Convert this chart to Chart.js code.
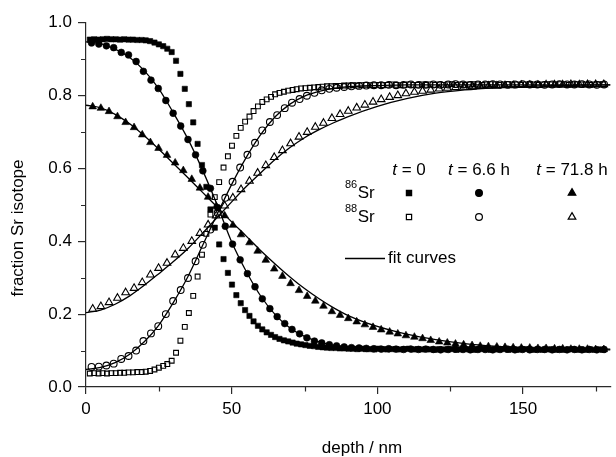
<!DOCTYPE html>
<html>
<head>
<meta charset="utf-8">
<script src="https://cdn.jsdelivr.net/npm/chart.js@4.4.1/dist/chart.umd.min.js"></script>
<style>
html,body{margin:0;padding:0;background:#fff;}
#wrap{width:616px;height:457px;position:relative;}
</style>
</head>
<body>
<div id="wrap"><canvas id="c" width="616" height="457"></canvas></div>
<script>
// ---------- data ----------
const depthT0 = [1.3,2.8,4.3,5.7,7.2,8.7,10.2,11.7,13.1,14.6,16.1,17.6,19.1,20.5,22.0,23.5,25.0,26.5,27.9,29.4,
30.9,32.4,33.9,35.3,36.8,38.3,39.8,41.3,42.7,44.2,45.7,47.2,48.7,50.1,51.6,53.1,54.6,56.1,57.5,59.0,
60.5,62.0,63.5,64.9,66.4,67.9,69.4,70.9,72.3,73.8,75.3,76.8,78.3,79.7,81.2,82.7,84.2,85.7,87.1,88.6,
90.1,91.6,93.1,94.5,96.0,97.5,99.0,100.5,101.9,103.4,104.9,106.4,107.9,109.3,110.8,112.3,113.8,115.3,116.7,118.2,
119.7,121.2,122.7,124.1,125.6,127.1,128.6,130.1,131.5,133.0,134.5,136.0,137.5,138.9,140.4,141.9,143.4,144.9,146.3,147.8,
149.3,150.8,152.3,153.7,155.2,156.7,158.2,159.7,161.1,162.6,164.1,165.6,167.1,168.5,170.0,171.5,173.0,174.5,175.9,177.4];
const sr86T0 = [0.953,0.954,0.953,0.954,0.955,0.954,0.954,0.953,0.954,0.953,0.953,0.952,0.952,0.951,
0.949,0.945,0.940,0.935,0.928,0.919,0.895,0.859,0.818,0.776,0.726,0.667,0.609,0.549,0.487,0.437,
0.391,0.351,0.313,0.281,0.252,0.230,0.211,0.195,0.180,0.168,0.158,0.150,0.143,0.137,0.132,0.128,
0.125,0.122,0.119,0.117,0.115,0.113,0.112,0.110,0.109,0.108,0.107,0.107,0.106,0.106,0.105,
0.105,0.104,0.105,0.104,0.104,0.103,0.105,0.104,0.103,0.104,
0.104,0.103,0.104,0.105,0.103,0.104,0.103,0.104,0.103,0.102,
0.104,0.103,0.103,0.104,0.102,0.103,0.104,0.103,0.102,0.103,
0.104,0.103,0.102,0.103,0.103,0.104,0.102,0.103,0.102,0.103,
0.104,0.103,0.102,0.103,0.102,0.103,0.103,0.102,0.103,0.102,
0.103,0.104,0.102,0.103,0.102,0.103,0.102,0.103,0.102];
const sr88T0 = [0.037,0.038,0.037,0.038,0.037,0.038,0.038,0.039,0.039,0.040,0.040,0.041,0.041,0.042,
0.044,0.048,0.053,0.058,0.063,0.072,0.094,0.127,0.165,0.203,0.250,0.303,0.363,0.420,0.473,0.521,
0.562,0.602,0.633,0.662,0.689,0.711,0.728,0.742,0.757,0.770,0.782,0.789,0.796,0.803,0.807,0.810,
0.813,0.815,0.817,0.819,0.820,0.821,0.822,0.823,0.824,0.825,0.825,0.826,0.826,0.827,0.827,
0.828,0.827,0.828,0.829,0.828,0.828,0.829,0.828,0.829,0.830,
0.829,0.828,0.829,0.830,0.829,0.829,0.830,0.829,0.830,0.829,
0.830,0.829,0.830,0.831,0.829,0.830,0.829,0.830,0.831,0.830,
0.829,0.830,0.831,0.830,0.829,0.830,0.831,0.830,0.830,0.829,
0.830,0.831,0.830,0.829,0.830,0.831,0.830,0.830,0.831,0.830,
0.829,0.830,0.831,0.830,0.830,0.829,0.830,0.831,0.830];

const depthT66 = [1.9,4.4,7.0,9.5,12.1,14.6,17.2,19.7,22.3,24.8,27.4,29.9,32.5,35.0,37.6,40.1,42.7,45.2,47.8,50.3,
52.9,55.4,58.0,60.5,63.1,65.6,68.2,70.7,73.3,75.8,78.4,80.9,83.5,86.0,88.6,91.1,93.7,96.2,98.8,101.3,
103.9,106.4,109.0,111.5,114.1,116.6,119.2,121.7,124.3,126.8,129.4,131.9,134.5,137.0,139.6,142.1,144.7,147.2,149.8,152.3,
154.9,157.4,160.0,162.5,165.1,167.6,170.2,172.7,175.3,177.8];
const sr86T66 = [0.944,0.941,0.936,0.931,0.918,0.911,0.893,0.866,0.842,0.819,0.786,0.751,0.716,0.679,0.637,0.593,
0.545,0.492,0.441,0.392,0.349,0.311,0.275,0.242,0.215,0.193,0.174,0.158,0.146,0.135,0.126,0.121,0.116,
0.113,0.110,0.108,0.107,0.106,0.105,
0.104,0.105,0.104,0.103,0.104,0.103,0.104,0.103,0.102,0.103,0.104,0.103,0.102,0.103,0.103,0.102,
0.103,0.104,0.102,0.103,0.102,0.103,0.103,0.102,0.103,0.102,0.103,0.102,0.103,0.102,0.103];
const sr88T66 = [0.055,0.056,0.059,0.064,0.077,0.085,0.100,0.126,0.147,0.167,0.200,0.236,0.266,0.299,0.345,0.390,
0.432,0.478,0.519,0.563,0.602,0.637,0.670,0.704,0.727,0.746,0.765,0.780,0.790,0.799,0.807,0.814,0.818,
0.821,0.823,0.825,0.826,0.827,0.828,
0.828,0.829,0.828,0.829,0.830,0.829,0.829,0.830,0.829,0.830,0.831,0.830,0.829,0.830,0.830,0.831,
0.830,0.829,0.830,0.831,0.830,0.830,0.829,0.830,0.831,0.830,0.830,0.831,0.830,0.829,0.830];

const depthT718 = [2.3,5.1,7.9,10.8,13.6,16.5,19.3,22.1,24.9,27.8,30.6,33.4,36.3,39.1,41.9,44.7,47.6,50.4,53.2,56.1,
58.9,61.7,64.6,67.4,70.2,73.1,75.9,78.7,81.5,84.4,87.2,90.0,92.9,95.7,98.5,101.3,104.2,107.0,109.8,112.7,
115.5,118.3,121.2,124.0,126.8,129.6,132.5,135.3,138.1,141.0,143.8,146.6,149.4,152.3,155.1,157.9,160.8,163.6,166.4,169.3,
172.1,174.9,177.7];
const sr86T718 = [0.769,0.765,0.756,0.742,0.726,0.712,0.692,0.671,0.655,0.636,0.615,0.594,0.570,0.546,0.521,0.496,
0.470,0.444,0.418,0.396,0.373,0.348,0.324,0.304,0.284,0.265,0.249,0.236,0.222,0.207,0.197,0.188,0.179,
0.171,0.164,0.157,0.151,0.146,0.141,0.137,0.133,0.128,0.124,0.121,0.118,0.116,0.114,0.112,0.111,0.110,
0.109,0.108,0.107,0.107,0.106,0.106,0.105,0.105,0.104,0.104,0.104,0.103,0.103];
const sr88T718 = [0.214,0.221,0.232,0.244,0.259,0.271,0.287,0.308,0.326,0.340,0.363,0.381,0.400,0.422,0.445,0.470,
0.497,0.519,0.542,0.565,0.587,0.608,0.630,0.649,0.668,0.686,0.699,0.713,0.724,0.737,0.748,0.757,0.766,
0.774,0.782,0.789,0.795,0.800,0.805,0.809,0.812,0.815,0.818,0.820,0.822,0.823,0.824,0.825,0.826,0.826,
0.827,0.827,0.828,0.828,0.828,0.829,0.829,0.829,0.830,0.829,0.830,0.830,0.830];

// fit curves
const fitDepth = [0,5,10,15,20,25,30,35,40,45,50,55,60,65,70,75,80,85,90,100,110,120,130,140,150,160,170,180];
const fit86T66 = [0.947,0.942,0.927,0.904,0.868,0.818,0.752,0.680,0.595,0.500,0.398,0.317,0.249,0.198,0.162,0.139,0.124,0.115,0.110,0.105,0.103,0.102,0.102,0.102,0.102,0.102,0.102,0.102];
const fit88T66 = [0.048,0.054,0.067,0.090,0.124,0.170,0.232,0.303,0.388,0.474,0.556,0.630,0.693,0.742,0.776,0.798,0.811,0.819,0.824,0.827,0.829,0.829,0.829,0.829,0.829,0.829,0.829,0.829];
const fit86T718 = [0.773,0.766,0.748,0.722,0.689,0.652,0.613,0.574,0.534,0.494,0.453,0.414,0.374,0.337,0.302,0.270,0.242,0.217,0.196,0.166,0.145,0.130,0.119,0.112,0.108,0.106,0.105,0.104];
const fit88T718 = [0.204,0.211,0.227,0.250,0.279,0.311,0.344,0.380,0.422,0.465,0.508,0.550,0.588,0.625,0.657,0.684,0.706,0.725,0.742,0.770,0.791,0.806,0.815,0.821,0.825,0.827,0.828,0.829];

// ticks and labels
const xTicks = [0,50,100,150];
const xMinor = [25,75,125,175];
const yTicks = [0,0.2,0.4,0.6,0.8,1.0];
const yMinor = [0.1,0.3,0.5,0.7,0.9];
const timeLabels = ['0','6.6 h','71.8 h'];
const isoLabels = ['86','88'];
const xTitle = 'depth / nm';
const yTitle = 'fraction Sr isotope';
const fitLabel = 'fit curves';

// ---------- drawing ----------
const FONT = '"Liberation Sans", Arial, Helvetica, sans-serif';
const AXIS = '#2a2a2a';
const pts = (xs, ys) => xs.map((x, i) => ({x: x, y: ys[i]}));

function markerSet(label, xs, ys, style, filled, r) {
  return {
    label: label, data: pts(xs, ys), showLine: false,
    pointStyle: style, pointRadius: r, pointHoverRadius: r,
    pointBackgroundColor: filled ? '#000' : 'rgba(0,0,0,0)',
    pointBorderColor: '#000', pointBorderWidth: filled ? 0.6 : 1.1
  };
}
function fitSet(label, ys) {
  return {
    label: label, data: pts(fitDepth, ys), showLine: true,
    pointRadius: 0, borderColor: '#000', borderWidth: 1.3,
    cubicInterpolationMode: 'monotone', fill: false
  };
}

const SQ = 3.7, CI = 3.4, TR = 4.4;

const overlay = {
  id: 'overlay',
  afterDraw(chart) {
    const ctx = chart.ctx;
    const xs = chart.scales.x, ys = chart.scales.y;
    ctx.save();
    // minor ticks
    ctx.strokeStyle = AXIS; ctx.lineWidth = 1.2;
    ctx.beginPath();
    xMinor.forEach(v => {
      const p = Math.round(xs.getPixelForValue(v)) + 0.5;
      ctx.moveTo(p, ys.bottom); ctx.lineTo(p, ys.bottom + 4.5);
    });
    yMinor.forEach(v => {
      const p = Math.round(ys.getPixelForValue(v)) + 0.5;
      ctx.moveTo(xs.left, p); ctx.lineTo(xs.left - 5, p);
    });
    ctx.stroke();

    ctx.fillStyle = '#000';
    ctx.textBaseline = 'middle';
    // axis titles
    ctx.font = '17px ' + FONT;
    ctx.textAlign = 'center';
    ctx.fillText(xTitle, 362, 448);
    ctx.save();
    ctx.translate(18, 228);
    ctx.rotate(-Math.PI / 2);
    ctx.fillText(yTitle, 0, 0);
    ctx.restore();

    // time headers
    const cols = [409, 479, 572];
    ctx.textAlign = 'left';
    timeLabels.forEach((lab, i) => {
      const rest = ' = ' + lab;
      ctx.font = 'italic 17px ' + FONT;
      const w1 = ctx.measureText('t').width;
      ctx.font = '17px ' + FONT;
      const w2 = ctx.measureText(rest).width;
      const x0 = cols[i] - (w1 + w2) / 2;
      ctx.font = 'italic 17px ' + FONT;
      ctx.fillText('t', x0, 170);
      ctx.font = '17px ' + FONT;
      ctx.fillText(rest, x0 + w1, 170);
    });

    // isotope rows
    const rows = [193, 217];
    const styles = ['rect', 'circle', 'triangle'];
    const radii = [SQ, CI, TR];
    isoLabels.forEach((iso, r) => {
      const y = rows[r];
      ctx.fillStyle = '#000';
      ctx.font = '11px ' + FONT;
      ctx.fillText(iso, 345, y - 8);
      const wi = ctx.measureText(iso).width;
      ctx.font = '17px ' + FONT;
      ctx.fillText('Sr', 345 + wi + 0.5, y + 0.5);
      styles.forEach((st, c) => {
        ctx.fillStyle = r === 0 ? '#000' : 'rgba(0,0,0,0)';
        ctx.strokeStyle = '#000';
        Chart.helpers.drawPoint(ctx, {pointStyle: st, radius: radii[c], borderWidth: r === 0 ? 0.6 : 1.1, rotation: 0}, cols[c], y);
      });
    });

    // fit curve key
    ctx.strokeStyle = '#000'; ctx.lineWidth = 1.3;
    ctx.beginPath(); ctx.moveTo(345, 258.5); ctx.lineTo(385, 258.5); ctx.stroke();
    ctx.fillStyle = '#000';
    ctx.font = '17px ' + FONT;
    ctx.fillText(fitLabel, 388, 258.5);
    ctx.restore();
  }
};

new Chart(document.getElementById('c'), {
  type: 'scatter',
  data: {
    datasets: [
      markerSet('86Sr t=0', depthT0, sr86T0, 'rect', true, SQ),
      markerSet('88Sr t=0', depthT0, sr88T0, 'rect', false, SQ - 0.3),
      markerSet('86Sr t=6.6 h', depthT66, sr86T66, 'circle', true, CI),
      markerSet('88Sr t=6.6 h', depthT66, sr88T66, 'circle', false, CI),
      markerSet('86Sr t=71.8 h', depthT718, sr86T718, 'triangle', true, TR),
      markerSet('88Sr t=71.8 h', depthT718, sr88T718, 'triangle', false, TR),
      fitSet('fit 86Sr t=6.6 h', fit86T66),
      fitSet('fit 88Sr t=6.6 h', fit88T66),
      fitSet('fit 86Sr t=71.8 h', fit86T718),
      fitSet('fit 88Sr t=71.8 h', fit88T718)
    ]
  },
  options: {
    responsive: false,
    animation: false,
    devicePixelRatio: 1,
    layout: {padding: {top: 22.5, right: 0, bottom: 0, left: 0}},
    plugins: {legend: {display: false}, tooltip: {enabled: false}},
    scales: {
      x: {
        type: 'linear', min: 0, max: 180,
        afterBuildTicks: s => { s.ticks = xTicks.map(v => ({value: v})); },
        afterFit: s => { s.height = 70; },
        grid: {display: true, drawOnChartArea: false, drawTicks: true, tickLength: 7, color: AXIS, lineWidth: 1.2},
        border: {display: true, color: AXIS, width: 1.2},
        ticks: {autoSkip: false, maxRotation: 0, padding: 5, color: '#000', font: {family: FONT, size: 17},
          callback: v => String(v)}
      },
      y: {
        type: 'linear', min: 0, max: 1,
        afterBuildTicks: s => { s.ticks = yTicks.map(v => ({value: v})); },
        afterFit: s => { s.width = 86; },
        grid: {display: true, drawOnChartArea: false, drawTicks: true, tickLength: 8, color: AXIS, lineWidth: 1.2},
        border: {display: true, color: AXIS, width: 1.2},
        ticks: {autoSkip: false, padding: 6, color: '#000', font: {family: FONT, size: 17},
          callback: v => Number(v).toFixed(1)}
      }
    }
  },
  plugins: [overlay]
});
</script>
</body>
</html>
